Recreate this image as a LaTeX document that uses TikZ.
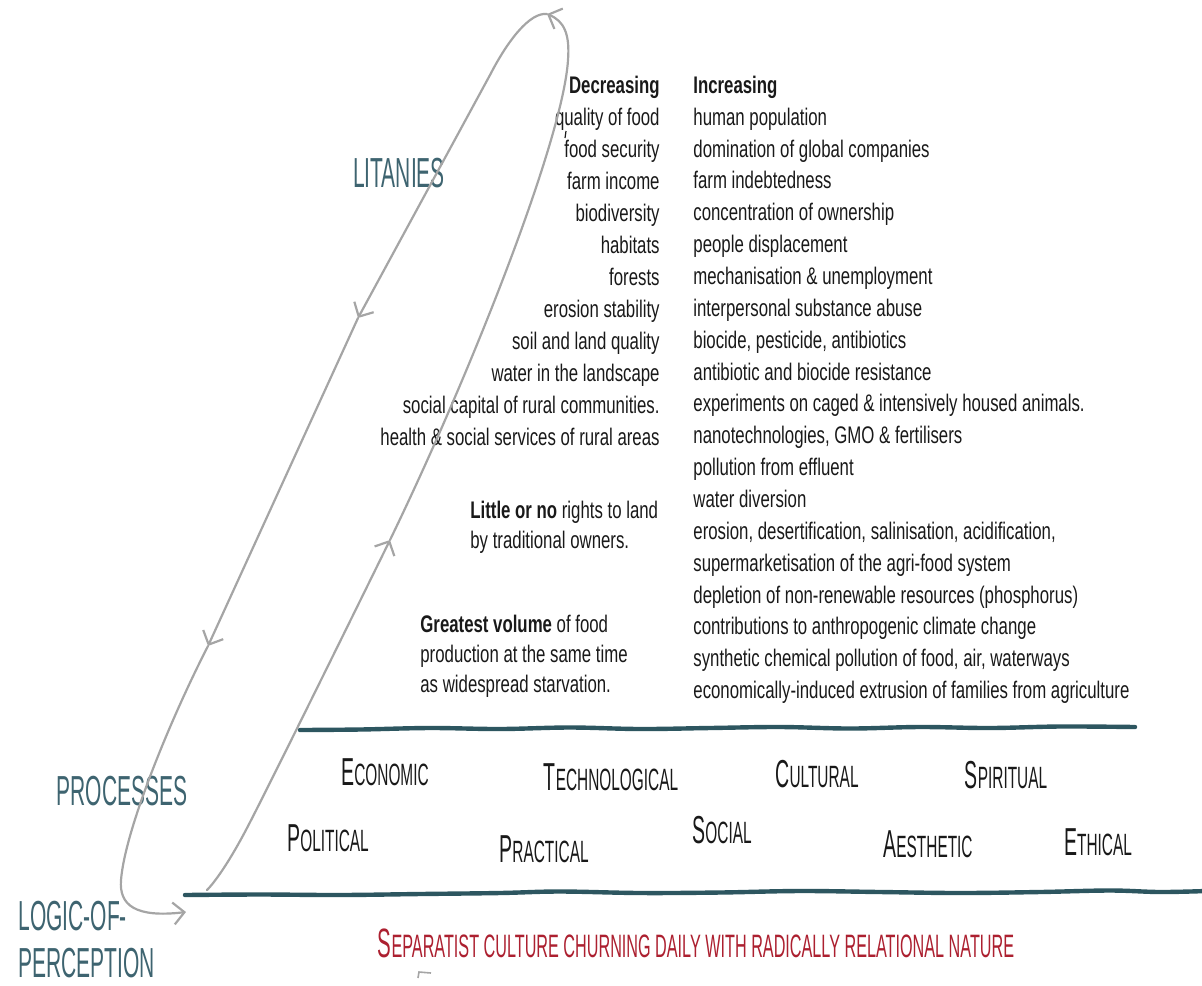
\documentclass[tikz,border=0pt]{standalone}
\usepackage{fontspec}
\setmainfont{Liberation Sans}
\newfontfamily\handfont{Liberation Sans}[FakeStretch=0.7]
\newfontfamily\capfont{Liberation Sans}[FakeStretch=0.5]
\usetikzlibrary{arrows.meta}

\definecolor{labelblue}{RGB}{62,100,112}
\definecolor{rulecol}{RGB}{45,86,96}
\definecolor{loopgray}{RGB}{165,165,165}
\definecolor{inkred}{RGB}{172,32,48}
\definecolor{ink}{RGB}{25,25,25}

% fake small capitals: large first letter, smaller capitals after it
\newcommand\fsc[2]{{\fontsize{19.5}{20}\selectfont #1}{\fontsize{15.4}{16}\selectfont #2}}
\newcommand\fscbig[2]{{\fontsize{20.5}{21}\selectfont #1}{\fontsize{16.2}{17}\selectfont #2}}

\tikzset{
  hand/.style={font=\handfont\fontsize{12}{16}\selectfont, text=ink, inner sep=0pt},
  level/.style={font=\capfont\fontsize{21}{24}\selectfont, text=labelblue, inner sep=0pt, anchor=base},
  proc/.style={font=\capfont, text=ink, inner sep=0pt, anchor=base},
  sepline/.style={rulecol, line width=2.2pt, line cap=round},
  loopline/.style={loopgray, line width=1.1pt, line cap=round},
  barb/.style={-{Straight Barb[length=5.5pt,width=11pt]}},
}

\begin{document}
\begin{tikzpicture}[x=0.5pt, y=-0.5pt]
\useasboundingbox (0,0) rectangle (1202,985);

% ---- levels of the layered analysis ----
\node[level] (litanies) at (399,187) {LITANIES};
\node[level] (processes) at (122,805) {PROCESSES};
\node[level, anchor=base west] (logic1) at (18,930) {LOGIC-OF-};
\node[level, anchor=base west] (logic2) at (18,977) {PERCEPTION};

% ---- litany: decreasing column ----
\node[hand, anchor=mid east] (decr) at (660,88) {\bfseries Decreasing};
\foreach \txt [count=\i from 1] in {
  quality of food, food security, farm income, biodiversity, habitats,
  forests, erosion stability, soil and land quality, water in the landscape,
  social capital of rural communities., health \& social services of rural areas}
  \node[hand, anchor=mid east] (dec\i) at (660,{120+32*(\i-1)}) {\txt};

% ---- litany: increasing column ----
\node[hand, anchor=mid west] (incr) at (693,88) {\bfseries Increasing};
\foreach \txt [count=\i from 1] in {
  human population, domination of global companies, farm indebtedness,
  concentration of ownership, people displacement,
  mechanisation \& unemployment, interpersonal substance abuse,
  {biocide, pesticide, antibiotics}, antibiotic and biocide resistance,
  experiments on caged \& intensively housed animals.,
  {nanotechnologies, GMO \& fertilisers}, pollution from effluent,
  water diversion, {erosion, desertification, salinisation, acidification,},
  supermarketisation of the agri-food system,
  depletion of non-renewable resources (phosphorus),
  contributions to anthropogenic climate change,
  {synthetic chemical pollution of food, air, waterways},
  economically-induced extrusion of families from agriculture}
  \node[hand, anchor=mid west] (inc\i) at (693,{120+31.85*(\i-1)}) {\txt};

% ---- side notes ----
\node[hand, anchor=mid west] (rights1) at (470,513) {\bfseries Little or no \mdseries rights to land};
\node[hand, anchor=mid west] (rights2) at (470,543) {by traditional owners.};
\node[hand, anchor=mid west] (vol1) at (420,627) {\bfseries Greatest volume \mdseries of food};
\node[hand, anchor=mid west] (vol2) at (420,657) {production at the same time};
\node[hand, anchor=mid west] (vol3) at (420,687) {as widespread starvation.};

% ---- separating rules ----
\draw[sepline] plot[smooth, tension=0.6] coordinates {
  (300,730) (360,729.5) (430,728) (500,729) (570,727.5) (640,729) (710,728)
  (780,727) (850,728.5) (920,727) (990,728) (1060,726.5) (1135,727)};
\draw[sepline] plot[smooth, tension=0.6] coordinates {
  (185,895) (260,894.5) (340,895) (420,894) (500,893) (560,891.5) (640,893)
  (720,892.5) (800,891) (880,892) (960,893) (1040,892) (1110,890.5)
  (1160,892) (1206,891)};

% ---- processes ----
\node[proc] (economic) at (385,785) {\fsc{E}{CONOMIC}};
\node[proc] (technological) at (611,790) {\fsc{T}{ECHNOLOGICAL}};
\node[proc] (cultural) at (817,787) {\fsc{C}{ULTURAL}};
\node[proc] (spiritual) at (1006,788) {\fsc{S}{PIRITUAL}};
\node[proc] (political) at (328,851) {\fsc{P}{OLITICAL}};
\node[proc] (practical) at (544,862) {\fsc{P}{RACTICAL}};
\node[proc] (social) at (722,843) {\fsc{S}{OCIAL}};
\node[proc] (aesthetic) at (928,857) {\fsc{A}{ESTHETIC}};
\node[proc] (ethical) at (1098,855) {\fsc{E}{THICAL}};

% ---- logic of perception ----
\node[proc, text=inkred] (separatist) at (696,957)
  {\fscbig{S}{EPARATIST CULTURE CHURNING DAILY WITH RADICALLY RELATIONAL NATURE}};

% ---- the loop through the levels ----
\coordinate (lp0) at (207,890);
\coordinate (lp1) at (390,540);
\coordinate (lp2) at (547,14);
\coordinate (lp3) at (358,318);
\coordinate (lp4) at (208,646);
\coordinate (lp5) at (186,912);
% up the inner side
\draw[loopline, barb] plot[smooth, tension=0.5] coordinates {(lp0) (247,828) (lp1)};
\draw[loopline, barb] (lp1) .. controls (470,375) and (563,140) .. (568,60)
  .. controls (570,34) and (564,21) .. (lp2);
% down the outer side
\draw[loopline, barb] (lp2) .. controls (530,12) and (508,40) .. (490,75) -- (lp3);
\draw[loopline, barb] (lp3) -- (lp4);
\draw[loopline, barb] (lp4) .. controls (170,720) and (125,830) .. (121,880)
  .. controls (119,905) and (135,918) .. (lp5);

% ---- small pen marks ----
\draw[ink, line width=0.6pt] (566,131) -- (565,138);
\draw[loopgray, line width=0.8pt] (418,978) -- (419,972) -- (431,973);
\end{tikzpicture}
\end{document}
